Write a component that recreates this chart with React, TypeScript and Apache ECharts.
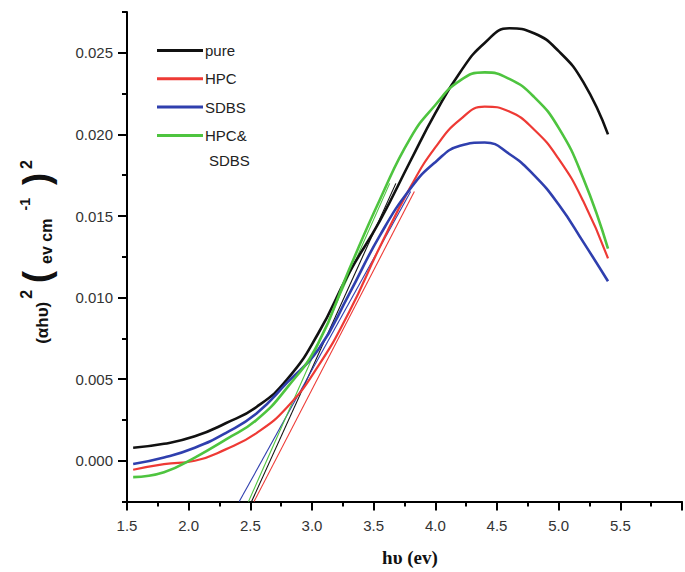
import React, { useEffect, useRef } from "react";
import * as echarts from "echarts";

const X = [1.55, 1.8, 2.05, 2.3, 2.55, 2.8, 3.05, 3.3, 3.55, 3.8, 4.0, 4.2, 4.4, 4.6, 4.8, 5.0, 5.2, 5.4];
const PURE = [0.0008, 0.00104, 0.0015, 0.0023, 0.0033, 0.005, 0.0078, 0.0115, 0.0147, 0.0184, 0.0213, 0.0238, 0.0256, 0.0265, 0.0262, 0.0251, 0.0232, 0.02];
const HPC = [-0.00055, -0.0002, 0.0, 0.0007, 0.0017, 0.0033, 0.0058, 0.0091, 0.0131, 0.0168, 0.0192, 0.0209, 0.0217, 0.0214, 0.0203, 0.0185, 0.0159, 0.0124];
const SDBS = [-0.0002, 0.0002, 0.0008, 0.0017, 0.0029, 0.0048, 0.0068, 0.0102, 0.0138, 0.0167, 0.0183, 0.0193, 0.0195, 0.0188, 0.0175, 0.0157, 0.0134, 0.011];
const HPC_SDBS = [-0.001, -0.0007, 0.0002, 0.0013, 0.0025, 0.0045, 0.0072, 0.0117, 0.016, 0.0198, 0.0218, 0.0233, 0.0238, 0.0234, 0.0223, 0.0204, 0.0173, 0.013];

// tangent (extrapolation) lines: [x, y] end points
const PURE_FIT = [[2.51, -0.0025], [3.68, 0.017]];
const HPC_FIT = [[2.53, -0.0025], [3.83, 0.0165]];
const SDBS_FIT = [[2.41, -0.0025], [3.8, 0.0165]];
const HPC_SDBS_FIT = [[2.485, -0.0025], [3.63, 0.017]];

const NAMES = ["pure", "HPC", "SDBS", "HPC&SDBS"];
const COLORS = ["#111111", "#ee3a35", "#2f3fae", "#4ec43f"];
const WIDTHS = [2.6, 2.2, 2.6, 2.6];

const X_TICK_LABELS = ["1.5", "2.0", "2.5", "3.0", "3.5", "4.0", "4.5", "5.0", "5.5"];

const SANS = "Liberation Sans, Arial, Helvetica, sans-serif";

export default function App() {
  const ref = useRef<HTMLDivElement>(null);
  useEffect(() => {
    document.body.style.margin = "0";
    const chart = echarts.init(ref.current!, undefined, { renderer: "svg" });
    const curves = [PURE, HPC, SDBS, HPC_SDBS];
    const fits = [PURE_FIT, HPC_FIT, SDBS_FIT, HPC_SDBS_FIT];
    const series: any[] = [];
    fits.forEach((f, i) => {
      series.push({
        name: NAMES[i] + " fit",
        type: "line",
        data: f,
        symbol: "none",
        silent: true,
        lineStyle: { color: COLORS[i], width: 1.1 },
        itemStyle: { color: COLORS[i] },
        z: 1,
      });
    });
    curves.forEach((c, i) => {
      series.push({
        name: NAMES[i],
        type: "line",
        data: X.map((x, j) => [x, c[j]]),
        smooth: 0.5,
        symbol: "none",
        lineStyle: { color: COLORS[i], width: WIDTHS[i] },
        itemStyle: { color: COLORS[i] },
        z: 2,
      });
    });
    const axisLineStyle = { color: "#000", width: 2 };
    chart.setOption({
      animation: false,
      backgroundColor: "#ffffff",
      grid: { left: 127, top: 12, right: -36, bottom: 70.4 },
      legend: {
        data: NAMES.map((n, i) => ({ name: n, icon: "rect", itemStyle: { color: COLORS[i] } })),
        orient: "vertical",
        left: 152,
        top: 37,
        itemWidth: 46,
        itemHeight: 3,
        itemGap: 11.3,
        selectedMode: false,
        formatter: (n: string) => (n === "HPC&SDBS" ? "HPC&" : n),
        textStyle: { fontFamily: SANS, fontSize: 15, lineHeight: 17, color: "#222", padding: [0, 0, 0, -3] },
      },
      xAxis: {
        type: "value",
        min: 1.5,
        max: 6.0,
        interval: 0.5,
        axisLine: { onZero: false, lineStyle: axisLineStyle },
        axisTick: { length: 9, lineStyle: axisLineStyle },
        minorTick: { show: true, splitNumber: 2, length: 5, lineStyle: axisLineStyle },
        splitLine: { show: false },
        axisLabel: {
          margin: 16,
          fontFamily: SANS,
          fontSize: 15,
          color: "#333",
          formatter: (v: number) => {
            const k = Math.round((v - 1.5) / 0.5);
            return X_TICK_LABELS[k] ?? "";
          },
        },
      },
      yAxis: [
        {
          type: "value",
          min: -0.0025,
          max: 0.0275,
          interval: 0.005,
          axisLine: { onZero: false, lineStyle: axisLineStyle },
          axisTick: { length: 5, lineStyle: axisLineStyle },
          minorTick: { show: true, splitNumber: 2, length: 9, lineStyle: axisLineStyle },
          splitLine: { show: false },
          axisLabel: { show: false },
        },
        {
          type: "value",
          position: "left",
          min: -0.0025,
          max: 0.0275,
          interval: 0.0025,
          axisLine: { show: false, onZero: false },
          axisTick: { show: false },
          splitLine: { show: false },
          axisLabel: {
            margin: 14,
            fontFamily: SANS,
            fontSize: 15,
            color: "#333",
            formatter: (v: number) => {
              const k = Math.round(v / 0.0025);
              return k % 2 === 0 ? (k * 0.0025).toFixed(3) : "";
            },
          },
        },
      ],
      graphic: [
        {
          type: "text",
          left: 209,
          top: 153,
          style: { text: "SDBS", fontFamily: SANS, fontSize: 15, fill: "#222" },
        },
        {
          type: "text",
          x: 410,
          y: 557,
          style: {
            text: "hυ (ev)",
            fontFamily: "Liberation Serif, Times New Roman, serif",
            fontWeight: "bold",
            fontSize: 19,
            fill: "#111",
            align: "center",
            verticalAlign: "middle",
          },
        },
        {
          type: "text",
          x: 36,
          y: 250,
          rotation: Math.PI / 2,
          style: {
            text: "{a|(αhυ)}{s|2}{p|(}{b|ev cm}{t|-1}{p|)}{s|2}",
            align: "center",
            verticalAlign: "middle",
            fill: "#111",
            rich: {
              a: { fontFamily: SANS, fontWeight: "bold", fontSize: 17, verticalAlign: "bottom", padding: [0, 2, 3, 0], fill: "#111" },
              s: { fontFamily: SANS, fontWeight: "bold", fontSize: 16, verticalAlign: "top", padding: [0, 4, 0, 1], fill: "#111" },
              t: { fontFamily: SANS, fontWeight: "bold", fontSize: 14, verticalAlign: "top", padding: [0, 10, 0, 2], fill: "#111" },
              p: { fontFamily: SANS, fontWeight: "bold", fontSize: 36, verticalAlign: "middle", padding: [0, 3, 0, 3], fill: "#111" },
              b: { fontFamily: SANS, fontWeight: "bold", fontSize: 16, verticalAlign: "bottom", padding: [0, 6, 0, 4], fill: "#111" },
            },
          },
        },
      ],
      series,
    });
    return () => chart.dispose();
  }, []);
  return <div ref={ref} style={{ position: "absolute", left: 0, top: 0, width: 685, height: 572 }} />;
}
